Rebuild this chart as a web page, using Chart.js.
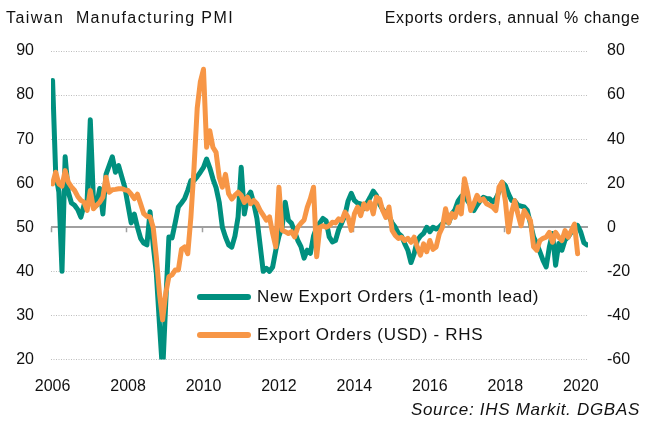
<!DOCTYPE html>
<html>
<head>
<meta charset="utf-8">
<script src="https://cdn.jsdelivr.net/npm/chart.js@4"></script>
<style>
  body { margin: 0; background: #fff; }
  #wrap { position: relative; width: 648px; height: 423px; font-family: 'Liberation Sans', Arial, sans-serif; color: #111; }
  #wrap canvas { position: absolute; left: 0; top: 0; }
  .txt { position: absolute; font-size: 16px; letter-spacing: 0.6px; white-space: nowrap; line-height: 18px; }
  .big { font-size: 17px; letter-spacing: 0.7px; }
  .swatch { position: absolute; height: 6px; border-radius: 3px; }
</style>
</head>
<body>
<div id="wrap">
  <canvas id="pmiChart" width="648" height="423"></canvas>
  <div class="txt" style="left:6px; top:9px; letter-spacing:1.4px;">Taiwan&nbsp; Manufacturing PMI</div>
  <div class="txt" style="right:8px; top:9px;">Exports orders, annual % change</div>
  <div class="swatch" style="left:197px; top:294px; width:54px; background:#00907f;"></div>
  <div class="txt big" style="left:257px; top:288px;">New Export Orders (1-month lead)</div>
  <div class="swatch" style="left:197px; top:332px; width:54px; background:#f79646;"></div>
  <div class="txt big" style="left:257px; top:326px;">Export Orders (USD) - RHS</div>
  <div class="txt big" style="right:8px; top:401px; font-style:italic;">Source: IHS Markit. DGBAS</div>
</div>
<script>
// monthly data, Jan 2006 onwards
var newExportOrders = [
    83.3, 62, 58, 40, 66, 58, 55.5, 55, 54, 52.3, 55, 56,
    74.4, 56, 55, 58.8, 53, 62, 64, 66, 62.5, 64, 61.5, 59,
    55, 51, 53, 50, 47.5, 46.4, 46, 53.5, 46, 39.6, 28, 17,
    33, 47.8, 47.6, 51, 54.6, 55.5, 56.5, 58.4, 60.6, 60.6, 61.5, 62.5,
    63.6, 65.5, 63.5, 61, 59, 55.7, 50, 47.8, 46, 45.5, 48, 52.3,
    63.6, 53, 56.8, 58, 55.4, 52, 46, 40, 40.7, 40, 41, 44.8,
    48, 50, 55.7, 51.6, 50.9, 49, 47, 45.6, 43, 44.8, 44.1, 48,
    50, 51, 52, 51.5, 47.8, 46.7, 47, 49.5, 51, 52.7, 56, 57.7,
    56.1, 55.5, 55.3, 54.2, 55.5, 56.8, 58.2, 57.2, 55.3, 54, 53.1, 52.5,
    51, 50, 48.6, 48, 46.3, 44.8, 42, 44, 47, 48, 48.6, 50,
    49, 50, 49.6, 50, 50.8, 51.5, 51, 53, 54, 56, 57, 57.6,
    56, 55, 53.8, 55, 56, 56.8, 56.5, 56.5, 55.7, 56.5, 58, 60.2,
    59.5, 57.6, 56.1, 56, 55, 54.8, 54.6, 53.8, 50.8, 47.8, 46.3, 44.4,
    42.5, 41, 45.5, 48.6, 41.4, 46.3, 44.8, 47.1, 47.8, 48.9, 49.6, 50.4,
    48.9, 46.5, 46
];
var exportOrdersUsd = [
    19.7, 25, 19.7, 18.7, 25.7, 20.5, 18.3, 16.7, 14, 12.2, 11.4, 7.7,
    16.7, 8.4, 10, 11.4, 13.7, 22.7, 15.9, 17, 17.2, 17.5, 17.5, 17,
    16.7, 15, 13, 15, 10.7, 6.2, 5, 4.7, 0, -13.4, -30, -42,
    -30, -22.4, -21.6, -19.4, -19.4, -10, -8.9, -12, 4.7, 27.2, 54, 66,
    71.7, 36.3, 43.8, 36.3, 34, 22.7, 18.2, 24, 15.2, 12.8, 14.5, 15.9,
    14.5, 11.3, 13.7, 10.7, 12.2, 10.7, 7.7, 5.5, 3.2, 4.7, -2.8, -8.9,
    18.2, -1.3, -2, -2.8, -2, -4.4, 0, 1.8, 3.3, 9, 13, 18.2,
    -13.4, 0, 0.7, 0, 0.7, 2.3, 2, 3.8, 3, 6.9, 4.5, -1.4,
    6.1, 9.2, 5.3, 10.7, 8.3, 11.4, 6.1, 13.7, 12.9, 7.6, 4.5, 9.2,
    -1.4, -3.7, -5.1, -4.5, -6, -5, -6.8, -4.5, -8.9, -12.6, -7.5, -11.1,
    -6, -10, -8.9, -3, 0, 8.4, 2, 6.2, 4.5, 9.2, 6.1, 22,
    15.8, 7.6, 10.7, 14.5, 12.1, 12.9, 10.7, 10, 9.2, 7.6, 18.2, 20.5,
    12.1, -2.1, 6.9, 12.1, 6.1, 0.7, 7.6, 5.3, 3, -8.9, -10.4, -6,
    -5, -4.5, -2.3, -6.8, -2.3, -4.5, -6, -1.5, -4.5, -1.5, 1.5, -12
];
var yearLabels = ['2006', '2008', '2010', '2012', '2014', '2016', '2018', '2020'];
var pmiTicks = [20, 30, 40, 50, 60, 70, 80, 90];
var changeTicks = [-60, -40, -20, 0, 20, 40, 60, 80];

var startYear = 2006;
var yearMonths = yearLabels.map(function(y) { return (parseInt(y) - startYear) * 12; });

function toPoints(arr) {
    return arr.map(function(v, i) { return {x: i, y: v}; });
}

var font = {family: "'Liberation Sans', Arial, sans-serif", size: 16};

// small ticks hanging under the zero line
var zeroLineTicks = {
    id: 'zeroLineTicks',
    beforeDatasetsDraw: function(chart) {
        var ctx = chart.ctx;
        var x = chart.scales.x;
        var y0 = chart.scales.y2.getPixelForValue(0);
        ctx.save();
        ctx.strokeStyle = '#a0a0a0';
        ctx.lineWidth = 1.5;
        ctx.beginPath();
        yearMonths.forEach(function(m) {
            var px = Math.round(x.getPixelForValue(m - 0.5)) + 0.5;
            ctx.moveTo(px, y0);
            ctx.lineTo(px, y0 + 5);
        });
        ctx.stroke();
        ctx.restore();
    }
};

var ctx = document.getElementById('pmiChart').getContext('2d');
var pmiChart = new Chart(ctx, {
    type: 'line',
    data: {
        datasets: [
            {
                label: 'New Export Orders (1-month lead)',
                data: toPoints(newExportOrders),
                yAxisID: 'y',
                borderColor: '#00907f',
                borderWidth: 5,
                order: 2
            },
            {
                label: 'Export Orders (USD) - RHS',
                data: toPoints(exportOrdersUsd),
                yAxisID: 'y2',
                borderColor: '#f79646',
                borderWidth: 5,
                order: 1
            }
        ]
    },
    options: {
        responsive: false,
        animation: false,
        layout: {padding: {top: 51, bottom: 23.5, left: 0, right: 0}},
        elements: {
            point: {radius: 0},
            line: {tension: 0, borderJoinStyle: 'round', borderCapStyle: 'round'}
        },
        plugins: {
            legend: {display: false},
            tooltip: {enabled: false}
        },
        scales: {
            x: {
                type: 'linear',
                min: -0.5,
                max: 170.3,
                grid: {display: false},
                border: {display: false},
                afterFit: function(scale) { scale.height = 40; },
                afterBuildTicks: function(scale) {
                    scale.ticks = yearMonths.map(function(m) { return {value: m}; });
                },
                ticks: {
                    autoSkip: false,
                    maxRotation: 0,
                    padding: 9,
                    color: '#111',
                    font: font,
                    callback: function(value) {
                        return yearLabels[yearMonths.indexOf(value)];
                    }
                }
            },
            y: {
                position: 'left',
                min: 20,
                max: 90,
                afterFit: function(scale) { scale.width = 51; },
                afterBuildTicks: function(scale) {
                    scale.ticks = pmiTicks.map(function(v) { return {value: v}; });
                },
                grid: {
                    drawTicks: false,
                    color: function(c) { return c.tick && c.tick.value === 50 ? '#a0a0a0' : '#bdbdbd'; },
                    lineWidth: function(c) { return c.tick && c.tick.value === 50 ? 2 : 1; }
                },
                border: {
                    display: false,
                    dash: function(c) { return c.tick && c.tick.value === 50 ? [] : [1, 1.5]; }
                },
                ticks: {padding: 17, color: '#111', font: font}
            },
            y2: {
                position: 'right',
                min: -60,
                max: 80,
                afterFit: function(scale) { scale.width = 60; },
                afterBuildTicks: function(scale) {
                    scale.ticks = changeTicks.map(function(v) { return {value: v}; });
                },
                grid: {display: false, drawTicks: false},
                border: {display: false},
                ticks: {padding: 19, color: '#111', font: font}
            }
        }
    },
    plugins: [zeroLineTicks]
});
</script>
</body>
</html>
